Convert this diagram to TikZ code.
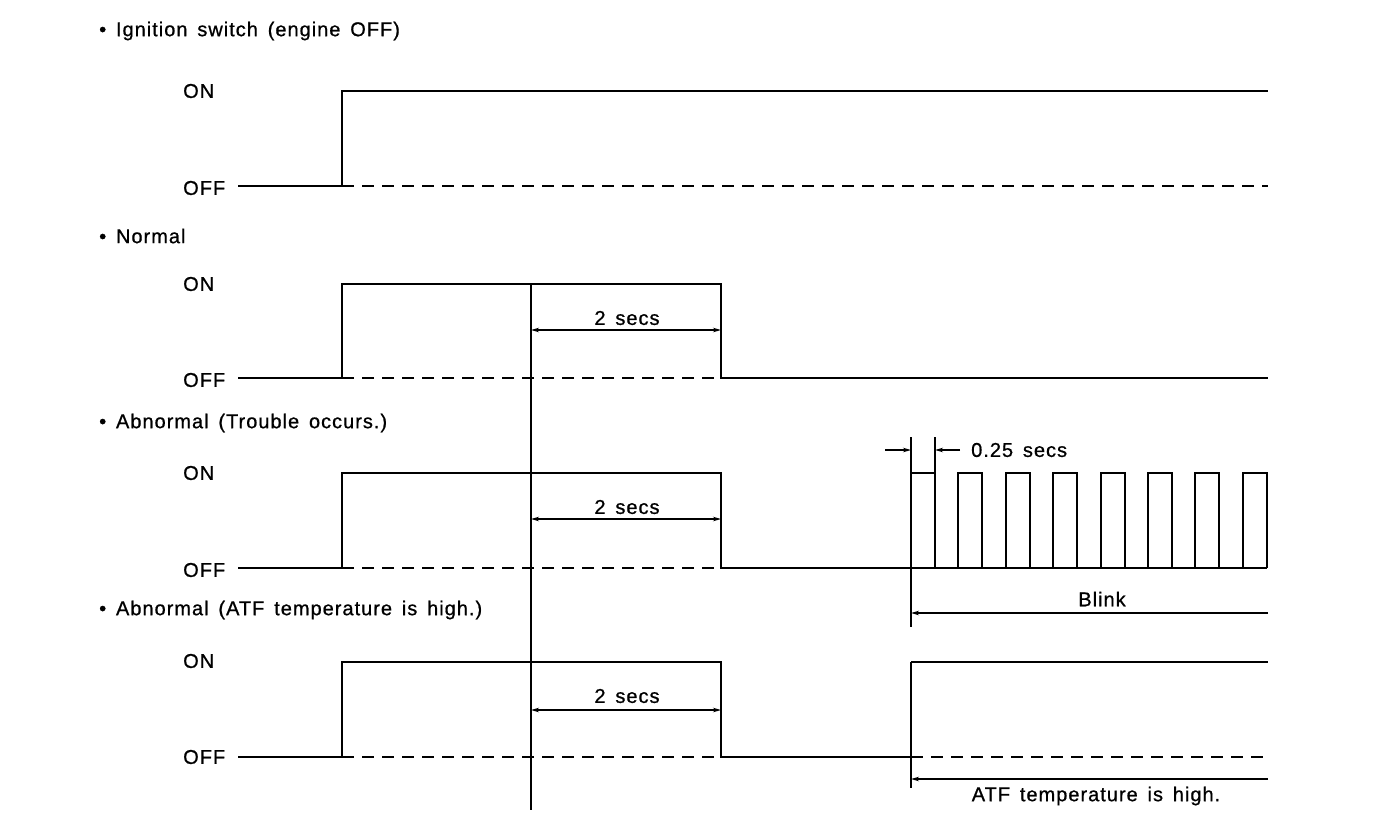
\documentclass[tikz,border=0pt]{standalone}
\usepackage{fontspec}
\setmainfont{Liberation Sans}[LetterSpace=5,WordSpace=1.5,FakeBold=0.8]
\usetikzlibrary{arrows.meta}
\begin{document}
\begin{tikzpicture}[x=1pt,y=-1pt,
  sig/.style={line width=2pt},
  offdash/.style={line width=1.6pt, dash pattern=on 12pt off 8pt},
  marker/.style={line width=2.2pt},
  tip/.tip={Stealth[length=8pt,width=4.5pt]},
  dim/.style={line width=1.6pt},
  txt/.style={font=\fontsize{20}{22}\selectfont, inner sep=0pt},
  title/.style={txt, anchor=west},
  lvl/.style={txt, anchor=west}]
\useasboundingbox (0,0) rectangle (1376,828);

% titles
\node[title] (t1) at (99,31)  {• Ignition switch (engine OFF)};
\node[title] (t2) at (99,236) {• Normal};
\node[title] (t3) at (99,423) {• Abnormal (Trouble occurs.)};
\node[title] (t4) at (99,610) {• Abnormal (ATF temperature is high.)};

% level labels
\foreach \r/\on/\off in {1/91/188, 2/284/380, 3/473/570, 4/661/757}{
  \node[lvl] (on\r) at (183,\on) {ON};
  \node[lvl] (off\r) at (183,\off) {OFF};
}

% row 1
\draw[sig] (238,186) -- (342,186) -- (342,91) -- (1268,91);
\draw[offdash] (342,186) -- (1268,186);

% row 2
\draw[sig] (238,378) -- (342,378) -- (342,284) -- (721,284) -- (721,378) -- (1268,378);
\draw[offdash] (342,378) -- (721,378);

% row 3
\draw[sig] (238,568) -- (342,568) -- (342,473) -- (721,473) -- (721,568) -- (1267,568);
\draw[offdash] (342,568) -- (721,568);
\draw[sig] (911,473) -- (935,473);
\draw[sig] (935,437) -- (935,568);
\foreach \i in {1,...,7}{
  \draw[sig] ({911+47.4*\i},568) -- ({911+47.4*\i},473) -- ({935+47.4*\i},473) -- ({935+47.4*\i},568);
}
\draw[marker] (911,437) -- (911,627);

% row 4
\draw[sig] (238,757) -- (342,757) -- (342,662) -- (721,662) -- (721,757) -- (911,757);
\draw[offdash] (342,757) -- (721,757);
\draw[sig] (911,662) -- (1268,662);
\draw[offdash] (911,757) -- (1268,757);
\draw[marker] (911,662) -- (911,788);

% main marker
\draw[marker] (531,284) -- (531,810);

% 2 secs dimensions
\foreach \y/\ly in {330/318, 519/507, 710/696}{
  \coordinate (a) at (531,\y);
  \coordinate (b) at (721,\y);
  \draw[dim, tip-tip] (a) -- (b);
  \node[txt] at (627,\ly) {2 secs};
}

% 0.25 secs
\coordinate (q1) at (885,450);
\coordinate (q2) at (911,450);
\coordinate (q3) at (960,450);
\coordinate (q4) at (935,450);
\draw[dim, -tip] (q1) -- (q2);
\draw[dim, -tip] (q3) -- (q4);
\node[txt, anchor=west] (q) at (971,450) {0.25 secs};

% Blink
\coordinate (bl1) at (1268,613);
\coordinate (bl0) at (911,613);
\draw[dim, -tip] (bl1) -- (bl0);
\node[txt] (blink) at (1102,599) {Blink};

% ATF
\coordinate (at1) at (1268,779);
\coordinate (at0) at (911,779);
\draw[dim, -tip] (at1) -- (at0);
\node[txt] (atf) at (1096,796) {ATF temperature is high.};
\end{tikzpicture}
\end{document}
